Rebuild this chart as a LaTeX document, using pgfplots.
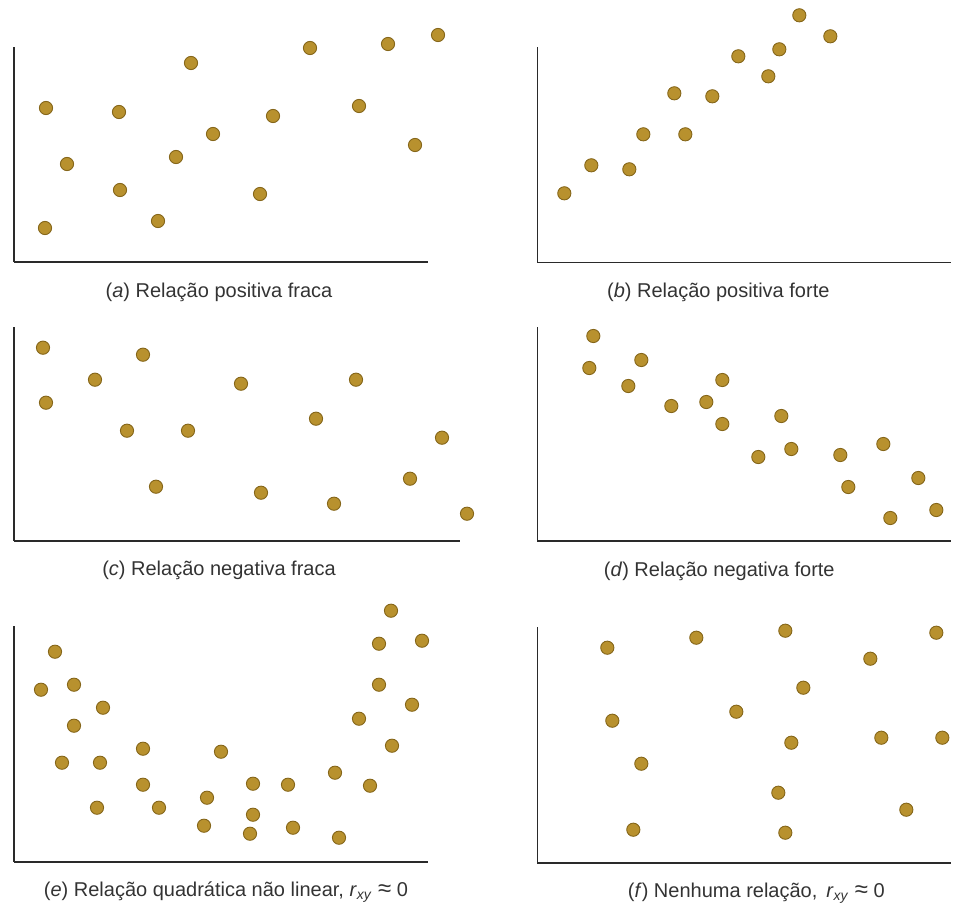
\documentclass[border=0pt]{standalone}
\usepackage{pgfplots}
\pgfplotsset{compat=1.18}
\usepackage{fontspec}
\setmainfont{Liberation Sans}
\definecolor{dotfill}{HTML}{B8912E}
\definecolor{dotdraw}{HTML}{85661A}
\definecolor{axline}{HTML}{2A2A2A}
\definecolor{captxt}{HTML}{333333}
\pgfplotsset{
  panel/.style={
    scale only axis, clip=false,
    axis lines=left, axis line style={axline, line width=0.8pt, -},
    xtick=\empty, ytick=\empty,
    xmin=0, ymin=0,
    x=0.5pt, y=0.5pt,
    anchor=origin,
  },
  dots/.style={only marks, mark=*, mark size=3.3pt,
    mark options={fill=dotfill, draw=dotdraw, line width=0.45pt}},
}
\newcommand{\pcap}[2]{\node[font=\fontsize{10}{12}\selectfont, text=captxt, inner sep=0pt] at (axis cs:#1,-30) {#2};}
\begin{document}
\begin{tikzpicture}
\path[use as bounding box] (0pt,0pt) rectangle (478pt,453.5pt);
% (a)
\begin{axis}[panel, at={(7pt,322.5pt)}, xmax=414, ymax=215]
\addplot[dots] coordinates {(32,154) (53,98) (31,34) (105,150) (106,72) (144,41) (162,105) (177,199) (199,128) (246,68) (259,146) (296,214) (345,156) (374,218) (401,117) (424,227)};
\pcap{205}{(\textit{a}) Relação positiva fraca}
\end{axis}
% (b)
\begin{axis}[panel, at={(268.65pt,322.35pt)}, xmax=414, ymax=215]
\addplot[dots] coordinates {(27,69) (54,97) (92,93) (106,128) (137,169) (148,128) (175,166) (201,206) (231,186) (242,213) (262,247) (293,226)};
\pcap{181}{(\textit{b}) Relação positiva forte}
\end{axis}
% (c)
\begin{axis}[panel, at={(7pt,183.15pt)}, xmax=446, ymax=214]
\addplot[dots] coordinates {(29,193) (32,138) (81,161) (129,186) (113,110) (174,110) (142,54) (227,157) (247,48) (302,122) (320,37) (342,161) (396,62) (428,103) (453,27)};
\pcap{205}{(\textit{c}) Relação negativa fraca}
\end{axis}
% (d)
\begin{axis}[panel, at={(268.65pt,183pt)}, xmax=414, ymax=214]
\addplot[dots] coordinates {(56,205) (52,173) (104,181) (91,155) (134,135) (169,139) (185,161) (185,117) (221,84) (244,125) (254,92) (303,86) (311,54) (346,97) (353,23) (381,63) (399,31)};
\pcap{182}{(\textit{d}) Relação negativa forte}
\end{axis}
% (e)
\begin{axis}[panel, at={(7pt,22.65pt)}, xmax=414, ymax=236]
\addplot[dots] coordinates {(41,210) (27,172) (60,177) (89,154) (60,136) (48,99) (86,99) (83,54) (129,113) (129,77) (145,54) (207,110) (193,64) (190,36) (239,78) (239,47) (236,28) (274,77) (279,34) (321,89) (325,24) (345,143) (356,76) (365,218) (365,177) (377,251) (378,116) (398,157) (408,221)};
\pcap{212}{(\textit{e}) Relação quadrática não linear, \textit{r}\textsubscript{\textit{xy}} {\large≈} 0}
\end{axis}
% (f)
\begin{axis}[panel, at={(268.65pt,22.15pt)}, xmax=414, ymax=236]
\addplot[dots] coordinates {(70,215) (159,225) (248,232) (399,230) (333,204) (266,175) (199,151) (75,142) (254,120) (344,125) (405,125) (104,99) (241,70) (369,53) (96,33) (248,30)};
\pcap{219}{(\textit{f}) Nenhuma relação,\, \textit{r}\textsubscript{\textit{xy}} {\large≈} 0}
\end{axis}
\end{tikzpicture}
\end{document}
